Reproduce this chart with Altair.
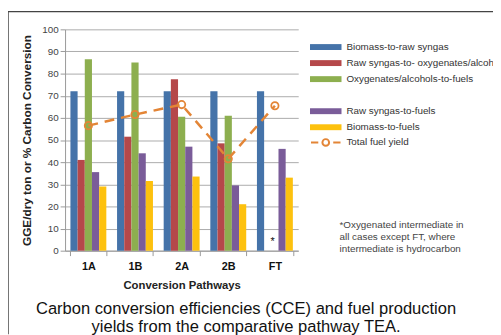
import altair as alt
import pandas as pd

pathways = ["1A", "1B", "2A", "2B", "FT"]
series = [
    "Biomass-to-raw syngas",
    "Raw syngas-to- oxygenates/alcohols",
    "Oxygenates/alcohols-to-fuels",
    "Raw syngas-to-fuels",
    "Biomass-to-fuels",
]
biomass_to_raw_syngas = [72, 72, 72, 72, 72]
raw_syngas_to_oxygenates = [41, 51.5, 77.5, 48.5, None]
oxygenates_to_fuels = [86.5, 85, 60.5, 61, None]
raw_syngas_to_fuels = [35.5, 44, 47, 29.5, 46]
biomass_to_fuels = [29, 31.5, 33.5, 21, 33]
total_fuel_yield = [56.5, 61.5, 66, 41.5, 65.5]

colors = ["#4573A9", "#B5484A", "#8DAF4F", "#7A5C99", "#FDC10E"]
orange = "#E38536"
font = "Liberation Sans"

rows = []
for s, vals in zip(series, [biomass_to_raw_syngas, raw_syngas_to_oxygenates,
                            oxygenates_to_fuels, raw_syngas_to_fuels, biomass_to_fuels]):
    for p, v in zip(pathways, vals):
        if v is not None:
            rows.append({"pathway": p, "series": s, "value": v})
bars_df = pd.DataFrame(rows)
line_df = pd.DataFrame({"pathway": pathways, "value": total_fuel_yield,
                        "kind": ["Total fuel yield"] * len(pathways)})
star_df = pd.DataFrame({"pathway": ["FT"], "series": [series[1]], "value": [5.5], "t": ["*"]})
one = pd.DataFrame({"k": [0]})

legend_domain = series[:3] + [" "] + series[3:]
legend_range = colors[:3] + ["transparent"] + colors[3:]

xscale = alt.Scale(paddingInner=0.23, paddingOuter=0.115)
yscale = alt.Scale(domain=[0, 100], nice=False)

X = alt.X("pathway:N", sort=pathways, scale=xscale,
          axis=alt.Axis(title="Conversion Pathways", labelAngle=0, tickBand="extent"))
Y = alt.Y("value:Q", scale=yscale,
          axis=alt.Axis(title="GGE/dry ton or % Carbon Conversion", values=list(range(0, 101, 10))))

rect_path = "M-4,-0.75H4V0.75H-4Z"
line_path = "M-3.75,0H-1.9M1.9,0H3.75M-0.85,0A0.85,0.85 0 1,1 0.85,0A0.85,0.85 0 1,1 -0.85,0"

bars = alt.Chart(bars_df).mark_bar(size=7.3).encode(
    x=X,
    xOffset=alt.XOffset("series:N", sort=series,
                        scale=alt.Scale(domain=series, paddingInner=0, paddingOuter=0)),
    y=Y,
    color=alt.Color("series:N", scale=alt.Scale(domain=legend_domain, range=legend_range),
                    legend=alt.Legend(title=None, orient="none", legendX=248, legendY=13,
                                      symbolType=rect_path, symbolSize=64, symbolOffset=12,
                                      labelOffset=16, rowPadding=6.3, labelFontSize=10,
                                      labelColor="#333", labelFont=font, padding=0,
                                      labelFontWeight="normal",
                                      symbolStrokeWidth=0, labelLimit=400)),
)

stroke_scale = alt.Scale(domain=["Total fuel yield"], range=[orange])
stroke_enc = alt.Stroke("kind:N", scale=stroke_scale,
                        legend=alt.Legend(title=None, orient="none", legendX=248, legendY=110,
                                          symbolType=line_path, symbolSize=64, symbolOffset=12,
                                          labelOffset=16, labelFontSize=10, labelColor="#333",
                                          labelFont=font, padding=0, symbolStrokeWidth=2,
                                          labelFontWeight="normal",
                                          symbolFillColor="white"))

line = alt.Chart(line_df).mark_line(strokeWidth=2.5, strokeDash=[10, 7]).encode(
    x=X, y=Y, stroke=stroke_enc)
points = alt.Chart(line_df).mark_point(size=55, filled=False, strokeWidth=1.8, fill="white",
                                       fillOpacity=0, opacity=1).encode(
    x=X, y=Y, stroke=alt.Stroke("kind:N", scale=stroke_scale, legend=None))

star = alt.Chart(star_df).mark_text(fontSize=11, font=font, color="#111", baseline="middle",
                                    dx=5, dy=4).encode(
    x=X,
    xOffset=alt.XOffset("series:N", sort=series,
                        scale=alt.Scale(domain=series, paddingInner=0, paddingOuter=0)),
    y=Y, text="t:N")

note = alt.Chart(one).mark_text(align="left", baseline="middle", fontSize=10, font=font,
                                color="#444", lineHeight=12).encode(
    x=alt.value(279), y=alt.value(199),
    text=alt.value(["*Oxygenated intermediate in", "all cases except FT, where",
                    "intermediate is hydrocarbon"]))

caption = alt.Chart(one).mark_text(align="center", baseline="middle", fontSize=16.8, font=font,
                                   color="#111", lineHeight=19).encode(
    x=alt.value(184), y=alt.value(284),
    text=alt.value(["Carbon conversion efficiencies (CCE) and fuel production",
                    "yields from the comparative pathway TEA."]))

top_rule = alt.Chart(one).mark_rule(color="#444", strokeWidth=1.5).encode(
    x=alt.value(-58), x2=alt.value(440), y=alt.value(-18))
left_rule = alt.Chart(one).mark_rule(color="#444", strokeWidth=1.5).encode(
    x=alt.value(-58), y=alt.value(-18), y2=alt.value(310))

chart = alt.layer(top_rule, left_rule, bars, line, points, star, note, caption).properties(
    width=237, height=225,
    autosize=alt.AutoSizeParams(type="none"),
    padding={"left": 58, "top": 19, "right": 198, "bottom": 83},
    background="white",
).configure_view(stroke=None).configure_axis(
    labelFont=font, titleFont=font,
).configure_axisY(
    labelFontSize=10, labelColor="#444", tickSize=5, tickColor="#999", domainColor="#999",
    gridColor="#aaa", titleFontSize=12, titleFontWeight="bold", titleColor="#222",
    titlePadding=8, labelPadding=2,
).configure_axisX(
    labelFontSize=11, labelFontWeight="bold", labelColor="#111", tickSize=5, tickColor="#999",
    domainColor="#999", titleFontSize=11.5, titleFontWeight="bold", titleColor="#222",
    labelPadding=5, titlePadding=8, grid=False,
)

chart.save("out.html", embed_options={"renderer": "svg", "actions": False})
